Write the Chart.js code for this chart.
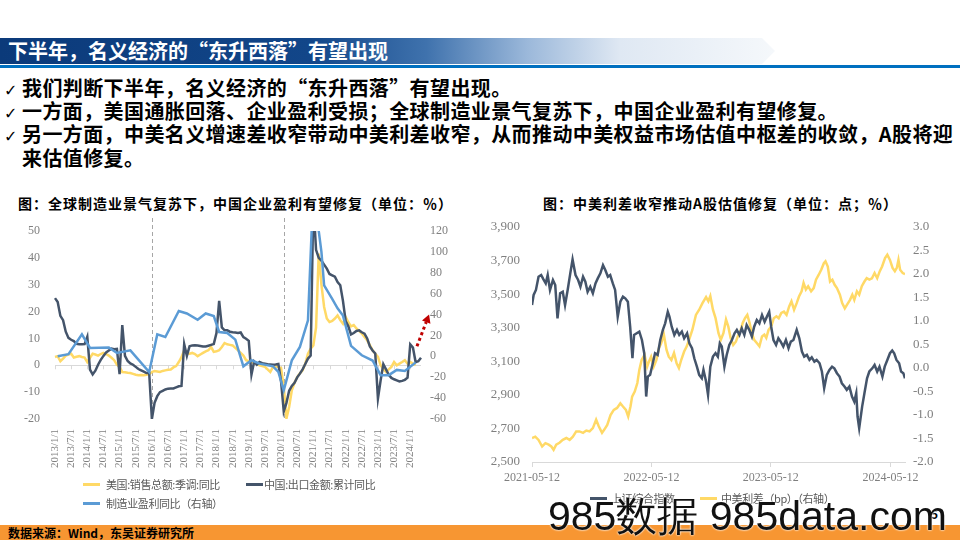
<!DOCTYPE html>
<html>
<head>
<meta charset="utf-8">
<script src="https://cdn.jsdelivr.net/npm/chart.js@4.4.1/dist/chart.umd.min.js"></script>
<style>
html, body { margin: 0; padding: 0; }
body { width: 960px; height: 540px; position: relative; overflow: hidden; background: #fff;
       font-family: "Noto Sans CJK SC", sans-serif; }
.abs { position: absolute; white-space: nowrap; }
#hdr { left: 0; top: 38px; width: 775px; height: 26px;
       background: linear-gradient(90deg, #0b3a7a 0%, #124689 40%, #3f72ad 55%, #9bb8da 68%, #dfe8f3 80%, #f5f8fb 100%);
       clip-path: polygon(0 0, 762px 0, 775px 50%, 762px 100%, 0 100%); }
#hdrText { left: 8px; top: 38px; line-height: 26px; font-size: 20px; font-weight: 700; color: #fff; }
#hdrLine { left: 0; top: 65px; width: 960px; height: 3px; background: #0070c0; }
.bl { left: 4px; font-size: 20px; font-weight: 700; color: #000; line-height: 24px; letter-spacing: 0.4px; }
.ck { font-family: "DejaVu Sans", sans-serif; font-size: 16px; font-weight: 400; display: inline-block; width: 18px; letter-spacing: 0; }
.ttl { top: 193px; font-size: 14px; font-weight: 700; color: #000; letter-spacing: 1px; line-height: 20px; }
.lg { font-size: 11px; color: #595959; letter-spacing: -0.4px; line-height: 14px; }
.ln { height: 3px; width: 17px; }
#foot { left: 0; top: 525px; width: 960px; height: 15px; background: #f79632; }
#footText { left: 8px; top: 525px; line-height: 15px; font-size: 12px; font-weight: 700; color: #000; }
#wm { left: 548px; top: 489px; font-family: "Liberation Sans", sans-serif; font-size: 41px; color: #111;
      text-shadow: 0 0 2px #fff, 0 0 2px #fff; }
</style>
</head>
<body>
<div id="hdr" class="abs"></div>
<div id="hdrText" class="abs">下半年，名义经济的“东升西落”有望出现</div>
<div id="hdrLine" class="abs"></div>

<div class="abs bl" style="top:76px"><span class="ck">✓</span>我们判断下半年，名义经济的“东升西落”有望出现。</div>
<div class="abs bl" style="top:99px"><span class="ck">✓</span>一方面，美国通胀回落、企业盈利受损；全球制造业景气复苏下，中国企业盈利有望修复。</div>
<div class="abs bl" style="top:122px"><span class="ck">✓</span>另一方面，中美名义增速差收窄带动中美利差收窄，从而推动中美权益市场估值中枢差的收敛，A股将迎</div>
<div class="abs bl" style="top:146px"><span class="ck"></span>来估值修复。</div>

<div class="abs ttl" style="left:18px">图：全球制造业景气复苏下，中国企业盈利有望修复（单位：％）</div>
<div class="abs ttl" style="left:543px">图：中美利差收窄推动A股估值修复（单位：点；％）</div>

<canvas id="leftChart" class="abs" width="470" height="260" style="left:0;top:215px"></canvas>
<canvas id="rightChart" class="abs" width="480" height="280" style="left:480px;top:215px"></canvas>

<div class="abs ln" style="left:83px;top:483px;background:#ffd966"></div>
<div class="abs lg" style="left:106px;top:477px">美国:销售总额:季调:同比</div>
<div class="abs ln" style="left:246px;top:483px;background:#44546a"></div>
<div class="abs lg" style="left:264px;top:477px">中国:出口金额:累计同比</div>
<div class="abs ln" style="left:83px;top:502px;background:#5b9bd5"></div>
<div class="abs lg" style="left:106px;top:496px">制造业盈利同比（右轴）</div>

<div class="abs ln" style="left:590px;top:497px;background:#44546a"></div>
<div class="abs lg" style="left:611px;top:491px">上证综合指数</div>
<div class="abs ln" style="left:700px;top:497px;background:#ffd966"></div>
<div class="abs lg" style="left:721px;top:491px">中美利差（bp）（右轴）</div>

<div id="foot" class="abs"></div>
<div id="footText" class="abs">数据来源：Wind，东吴证券研究所</div>
<div class="abs" style="left:931px;top:505px;font-size:12px;font-weight:700;color:#000">5</div>
<div id="wm" class="abs">985数据 985data.com</div>

<script>
// ---------- left chart data (monthly, 2013/1 - 2024/5) ----------
var monthLabels = [];
for (var yr = 2013; yr <= 2024; yr++) {
  for (var mo = 1; mo <= 12; mo++) {
    if (yr === 2024 && mo > 5) break;
    monthLabels.push(yr + '/' + mo + '/1');
  }
}

// 美国:销售总额:季调:同比 (左轴)
var usSales = [
  3.1, 3.4, 1.5, 2.5, 3.6, 4.0, 4.3, 2.9, 3.2, 3.4, 3.1, 2.9,
  1.2, 2.8, 4.3, 4.0, 3.6, 4.2, 4.6, 4.2, 3.6, 2.8, 1.9, 0.2,
  -0.6, -2.5, -2.6, -2.8, -2.9, -3.2, -3.5, -3.7, -3.6, -3.7, -3.5, -3.3,
  -2.5, -2.1, -2.3, -2.5, -2.1, -1.9, -1.7, -1.6, -0.8, -0.3, 1.2, 3.0,
  5.6, 4.5, 4.3, 4.6, 4.2, 3.4, 4.0, 4.6, 5.2, 5.6, 6.8, 5.0,
  5.2, 5.6, 6.8, 8.3, 7.8, 7.6, 7.4, 6.5, 5.6, 4.6, 3.6, 1.9,
  1.5, 1.2, 0.8, 0.5, 0.0, -0.3, -0.6, -1.5, -2.5, -0.6, -0.5, -0.6,
  -1.0, -8.0, -19.8, -15.5, -9.3, -6.5, -4.4, -3.0, -1.9, 0.6, 4.3, 6.2,
  7.4, 14.0, 41.6, 30.0, 21.7, 17.4, 16.1, 16.5, 17.4, 18.6, 16.8, 15.5,
  18.0, 16.0, 14.5, 15.0, 13.7, 12.8, 11.8, 10.5, 9.3, 7.5, 5.6, 4.3,
  3.1, 0.0, -1.5, -2.5, -1.5, -0.6, 1.2, 0.0, 0.6, 1.2, 1.9, 0.6,
  1.2, 0.6, 0.1
];

// 中国:出口金额:累计同比 (左轴)
var cnExport = [
  25.0, 23.6, 18.4, 16.8, 12.5, 10.2, 9.5, 9.0, 8.0, 7.8, 7.8, 7.9,
  10.6, -1.6, -3.4, -2.0, 0.2, 2.0, 3.5, 4.8, 5.5, 6.2, 6.0, 6.1,
  -3.3, 15.0, 3.5, 1.6, 0.7, 0.2, -0.6, -1.4, -1.9, -2.4, -2.9, -2.9,
  -20.0, -14.0, -11.5, -10.0, -9.5, -9.0, -8.7, -8.6, -8.6, -8.2, -7.8, -7.7,
  7.9, 3.5, 7.1, 7.4, 7.5, 7.4, 7.2, 7.0, 7.0, 7.3, 7.6, 7.9,
  12.0, 24.0, 14.1, 13.0, 13.0, 12.5, 12.3, 12.2, 12.0, 12.2, 10.5, 9.9,
  9.1, -3.5, 1.4, 0.2, 1.2, 0.8, 0.6, 0.4, 0.3, 0.2, 0.3, 0.5,
  -6.0, -17.2, -14.0, -9.5, -7.7, -6.5, -4.5, -3.1, -1.5, 0.5, 2.5, 3.6,
  60.6, 43.0, 40.0, 39.0, 37.5, 36.0, 34.0, 33.5, 33.0, 31.0, 29.8, 24.0,
  16.5, 14.5, 11.5, 12.0, 12.8, 13.0, 12.3, 11.8, 10.0, 7.0, 5.5, 4.4,
  -12.4, -5.6, 0.4, -1.5, -3.5, -4.7, -5.2, -5.6, -6.0, -5.8, -5.4, -4.6,
  7.8, 6.6, 1.2, 1.5, 2.8
];

// 制造业盈利同比 (右轴)
var profitMonths = [
  '2013/2/1', '2013/6/1', '2013/11/1', '2014/2/1', '2014/9/1', '2014/12/1', '2015/5/1', '2015/12/1',
  '2016/3/1', '2016/6/1', '2016/11/1', '2017/2/1', '2017/6/1', '2017/9/1', '2017/12/1',
  '2018/2/1', '2018/5/1', '2018/8/1', '2018/11/1', '2019/2/1', '2019/5/1', '2019/10/1', '2019/12/1',
  '2020/2/1', '2020/5/1', '2020/8/1', '2020/11/1', '2021/1/1', '2021/4/1', '2021/5/1', '2021/8/1',
  '2021/10/1', '2021/12/1', '2022/3/1', '2022/7/1', '2022/11/1', '2023/2/1', '2023/5/1', '2023/8/1',
  '2023/11/1', '2024/3/1'
];
var profitValues = [
  0, 2, 21, 8, 8.5, 3.2, 5.7, -15,
  21, 18.5, 43.4, 41, 35, 41, 38.6,
  23.3, 22.3, 16, -9.6, -3.8, -7, -9.6, -15,
  -32.6, -3.8, 9, 34.5, 160, 100, 68, 55,
  46, 39, 10, 1, -4, -18, -18, -13,
  -14, -6
];

var dividerMonths = ['2016/1/1', '2020/2/1'];
// red dotted arrow: from / to as [month index, right-axis value]
var arrowFrom = [134.5, 9.6];
var arrowTo = [139, 40];

// ---------- right chart data ----------
var xTickDays = [0, 365, 730, 1096];
var xTickLabels = ['2021-05-12', '2022-05-12', '2023-05-12', '2024-05-12'];

// 上证综合指数: [days since 2021-05-12, 点位]
var sseDays = [0, 5, 12, 20, 28, 35, 42, 48, 55, 64, 71, 78, 86, 94, 101, 109, 117, 124, 133, 141, 148, 156, 163, 170, 178,
  186, 194, 201, 209, 217, 224, 232, 239, 247, 254, 262, 270, 278, 285, 293, 300, 307, 312, 320, 328, 336, 343, 349,
  354, 361, 368, 376, 384, 392, 400, 407, 415, 420, 427, 435, 443, 450, 458, 465, 474, 481, 489, 496, 504, 511, 519,
  524, 532, 538, 545, 553, 561, 568, 574, 580, 588, 595, 603, 611, 619, 626, 634, 641, 649, 656, 664, 672, 679, 687,
  695, 703, 711, 718, 725, 731, 738, 746, 753, 760, 768, 776, 784, 791, 799, 809, 817, 825, 832, 840, 848, 855, 863,
  870, 879, 886, 893, 901, 909, 917, 924, 932, 940, 947, 955, 962, 970, 978, 985, 991, 995, 1000, 1009, 1016, 1024,
  1031, 1040, 1047, 1055, 1062, 1071, 1078, 1086, 1094, 1101, 1107, 1114, 1122, 1128, 1135, 1140];
var sseValues = [3435, 3495, 3525, 3604, 3614, 3588, 3564, 3614, 3525, 3584, 3554, 3356, 3505, 3514, 3435, 3525, 3624, 3707,
  3614, 3584, 3544, 3604, 3574, 3514, 3544, 3505, 3564, 3594, 3624, 3673, 3644, 3604, 3614, 3564, 3525, 3366, 3455,
  3485, 3475, 3455, 3306, 3118, 3257, 3267, 3277, 3227, 3148, 2890, 3009, 3019, 3078, 3148, 3138, 3227, 3287, 3326,
  3395, 3366, 3306, 3257, 3287, 3257, 3277, 3237, 3267, 3207, 3178, 3118, 3068, 3019, 2999, 3049, 2979, 2900, 3068,
  3128, 3148, 3128, 3207, 3188, 3068, 3138, 3198, 3227, 3267, 3287, 3257, 3296, 3257, 3316, 3287, 3247, 3306, 3346,
  3326, 3376, 3336, 3366, 3395, 3306, 3227, 3198, 3237, 3217, 3188, 3227, 3178, 3217, 3227, 3287, 3237, 3158, 3128,
  3138, 3108, 3123, 3098, 3108, 3088, 3039, 2940, 3019, 3049, 3068, 3058, 3029, 3009, 2969, 2950, 2930, 2950, 2890,
  2860, 2910, 2771, 2702, 2830, 2910, 2999, 3039, 3058, 3078, 3039, 3068, 3009, 3068, 3108, 3148, 3164, 3148, 3108,
  3088, 3039, 3029, 2999];

// 中美利差 (右轴): [days since 2021-05-12, 利差]
var spreadDays = [0, 10, 20, 31, 41, 51, 59, 66, 74, 84, 94, 105, 115, 125, 135, 145, 156, 166, 176, 186, 196, 204, 214,
  221, 230, 240, 250, 260, 270, 278, 287, 294, 301, 306, 314, 322, 328, 335, 344, 352, 357, 364, 372, 380, 388, 395,
  403, 411, 418, 426, 434, 442, 449, 456, 465, 473, 480, 490, 501, 511, 521, 532, 539, 545, 553, 561, 570, 577, 585,
  593, 600, 607, 615, 623, 631, 638, 644, 651, 658, 665, 672, 679, 687, 695, 703, 710, 716, 723, 731, 739, 747, 754,
  762, 770, 778, 786, 793, 801, 809, 816, 824, 830, 837, 844, 853, 861, 868, 876, 884, 892, 897, 904, 911, 918, 925,
  932, 941, 948, 956, 963, 972, 979, 985, 993, 1000, 1008, 1016, 1023, 1031, 1039, 1047, 1055, 1063, 1070, 1079, 1086,
  1094, 1102, 1109, 1115, 1120, 1125, 1133, 1140];
var spreadValues = [-1.49, -1.46, -1.53, -1.67, -1.60, -1.63, -1.67, -1.74, -1.63, -1.59, -1.53, -1.49, -1.53, -1.46, -1.35,
  -1.35, -1.38, -1.33, -1.35, -1.28, -1.10, -1.24, -1.38, -1.31, -1.21, -1.00, -0.89, -0.85, -0.75, -0.82, -0.89, -1.03,
  -0.82, -0.61, -0.50, -0.32, -0.04, 0.17, 0.28, 0.03, 0.13, 0.24, 0.03, 0.17, 0.42, 0.53, 0.71, 0.39, 0.24, 0.17, 0.32,
  0.10, 0.00, 0.17, 0.35, 0.46, 0.60, 0.81, 1.13, 1.24, 1.38, 1.51, 1.42, 1.53, 1.24, 1.06, 0.74, 0.60, 0.74, 1.03, 0.88,
  0.64, 0.49, 0.56, 0.71, 0.81, 0.96, 1.06, 1.13, 0.96, 0.74, 0.60, 0.53, 0.46, 0.67, 0.71, 0.64, 0.81, 0.88, 1.06, 1.10,
  1.06, 1.17, 1.20, 1.13, 1.31, 1.42, 1.24, 1.38, 1.52, 1.63, 1.81, 1.67, 1.74, 1.63, 1.70, 1.88, 1.98, 2.09, 2.23, 2.27,
  2.16, 1.84, 1.88, 1.77, 1.70, 1.56, 1.38, 1.27, 1.35, 1.45, 1.56, 1.45, 1.63, 1.56, 1.74, 1.84, 1.91, 1.88, 1.91, 2.02,
  1.91, 2.06, 2.16, 2.34, 2.41, 2.30, 2.13, 2.06, 2.13, 2.30, 2.09, 2.02, 2.00];

var GOLD = '#ffd966', NAVY = '#44546a', SKY = '#5b9bd5';
var tickFont = { family: 'Liberation Serif', size: 12 };

function pairs(xs, ys) {
  var out = [];
  for (var i = 0; i < xs.length; i++) out.push({ x: xs[i], y: ys[i] });
  return out;
}
// fixed axis sizes so the plot area lands where the original has it
function fixWidth(w) {
  return function (s) { s.width = w; s.paddingTop = 0; s.paddingBottom = 0; };
}

// ---------- left chart ----------
var leftMarks = {
  id: 'leftMarks',
  beforeDatasetsDraw: function (chart) {
    var ctx = chart.ctx, a = chart.chartArea, x = chart.scales.x, y = chart.scales.y;
    ctx.save();
    var y0 = y.getPixelForValue(0);
    ctx.strokeStyle = '#d9d9d9';
    ctx.lineWidth = 1;
    for (var i = 0; i < monthLabels.length; i += 6) {
      var px = Math.round(x.getPixelForValue(i)) + 0.5;
      ctx.beginPath(); ctx.moveTo(px, y0); ctx.lineTo(px, y0 + 4); ctx.stroke();
    }
    ctx.strokeStyle = '#a6a6a6';
    ctx.setLineDash([4, 3]);
    dividerMonths.forEach(function (m) {
      var px = Math.round(x.getPixelForValue(monthLabels.indexOf(m))) + 0.5;
      ctx.beginPath(); ctx.moveTo(px, a.top - 13); ctx.lineTo(px, a.bottom); ctx.stroke();
    });
    ctx.restore();
  },
  afterDatasetsDraw: function (chart) {
    var ctx = chart.ctx, x = chart.scales.x, y1 = chart.scales.y1;
    var x0 = x.getPixelForValue(arrowFrom[0]), yA = y1.getPixelForValue(arrowFrom[1]);
    var x1 = x.getPixelForValue(arrowTo[0]), yB = y1.getPixelForValue(arrowTo[1]);
    var ang = Math.atan2(yB - yA, x1 - x0), head = 8;
    var bx = x1 - Math.cos(ang) * head, by = yB - Math.sin(ang) * head;
    ctx.save();
    ctx.strokeStyle = '#c00000';
    ctx.fillStyle = '#c00000';
    ctx.lineWidth = 3;
    ctx.setLineDash([3, 3]);
    ctx.beginPath(); ctx.moveTo(x0, yA); ctx.lineTo(bx, by); ctx.stroke();
    ctx.setLineDash([]);
    ctx.beginPath();
    ctx.moveTo(x1, yB);
    ctx.lineTo(bx + Math.sin(ang) * 4.5, by - Math.cos(ang) * 4.5);
    ctx.lineTo(bx - Math.sin(ang) * 4.5, by + Math.cos(ang) * 4.5);
    ctx.closePath(); ctx.fill();
    ctx.restore();
  }
};

new Chart(document.getElementById('leftChart').getContext('2d'), {
  type: 'line',
  data: {
    labels: monthLabels,
    datasets: [
      { label: '制造业盈利同比（右轴）', data: pairs(profitMonths, profitValues), borderColor: SKY, yAxisID: 'y1', order: 0 },
      { label: '中国:出口金额:累计同比', data: cnExport, borderColor: NAVY, yAxisID: 'y', order: 1 },
      { label: '美国:销售总额:季调:同比', data: usSales, borderColor: GOLD, yAxisID: 'y', order: 2 }
    ]
  },
  options: {
    responsive: false,
    animation: false,
    events: [],
    layout: { padding: { top: 16, left: 0, right: 0, bottom: 0 } },
    elements: { point: { radius: 0 }, line: { borderWidth: 2.5, tension: 0 } },
    plugins: { legend: { display: false }, tooltip: { enabled: false } },
    scales: {
      x: {
        grid: { display: false, drawTicks: false },
        border: { display: false },
        ticks: {
          autoSkip: false, minRotation: 90, maxRotation: 90, padding: 10,
          font: { family: 'Liberation Serif', size: 11 }, color: '#808080',
          callback: function (v, i) { return i % 6 === 0 ? monthLabels[i] : ''; }
        },
        afterFit: function (s) { s.height = 56; }
      },
      y: {
        position: 'left', min: -20, max: 50,
        ticks: { stepSize: 10, font: tickFont, color: '#808080', padding: 15 },
        grid: { drawTicks: false, color: function (c) { return c.tick && c.tick.value === 0 ? '#d9d9d9' : 'rgba(0,0,0,0)'; } },
        border: { display: false },
        afterFit: fixWidth(55)
      },
      y1: {
        position: 'right', min: -60, max: 120,
        ticks: { stepSize: 20, font: tickFont, color: '#808080', padding: 9 },
        grid: { display: false, drawTicks: false },
        border: { display: false },
        afterFit: fixWidth(49)
      }
    }
  },
  plugins: [leftMarks]
});

// ---------- right chart ----------
new Chart(document.getElementById('rightChart').getContext('2d'), {
  type: 'line',
  data: {
    datasets: [
      { label: '上证综合指数', data: pairs(sseDays, sseValues), borderColor: NAVY, yAxisID: 'y', order: 0 },
      { label: '中美利差（bp）（右轴）', data: pairs(spreadDays, spreadValues), borderColor: GOLD, yAxisID: 'y1', order: 1 }
    ]
  },
  options: {
    responsive: false,
    animation: false,
    events: [],
    layout: { padding: { top: 12, left: 0, right: 0, bottom: 0 } },
    elements: { point: { radius: 0 }, line: { borderWidth: 2.5, tension: 0 } },
    plugins: { legend: { display: false }, tooltip: { enabled: false } },
    scales: {
      x: {
        type: 'linear', min: 0, max: 1140,
        afterBuildTicks: function (s) { s.ticks = xTickDays.map(function (d) { return { value: d }; }); },
        ticks: {
          autoSkip: false, maxRotation: 0, padding: 4,
          font: { family: 'Liberation Serif', size: 12 }, color: '#7f7f7f',
          callback: function (v) { var k = xTickDays.indexOf(v); return k >= 0 ? xTickLabels[k] : ''; }
        },
        grid: { drawOnChartArea: false, drawTicks: true, tickLength: 5, color: '#d9d9d9' },
        border: { display: true, color: '#d9d9d9' },
        afterFit: function (s) { s.height = 33; }
      },
      y: {
        position: 'left', min: 2500, max: 3900,
        ticks: {
          stepSize: 200, font: { family: 'Liberation Serif', size: 13 }, color: '#7f7f7f', padding: 12,
          callback: function (v) { return v.toLocaleString('en-US'); }
        },
        grid: { display: false, drawTicks: false },
        border: { display: false },
        afterFit: fixWidth(52)
      },
      y1: {
        position: 'right', min: -2, max: 3,
        ticks: {
          stepSize: 0.5, font: { family: 'Liberation Serif', size: 13 }, color: '#7f7f7f', padding: 8,
          callback: function (v) { return v.toFixed(1); }
        },
        grid: { display: false, drawTicks: false },
        border: { display: false },
        afterFit: fixWidth(55)
      }
    }
  }
});
</script>
</body>
</html>
